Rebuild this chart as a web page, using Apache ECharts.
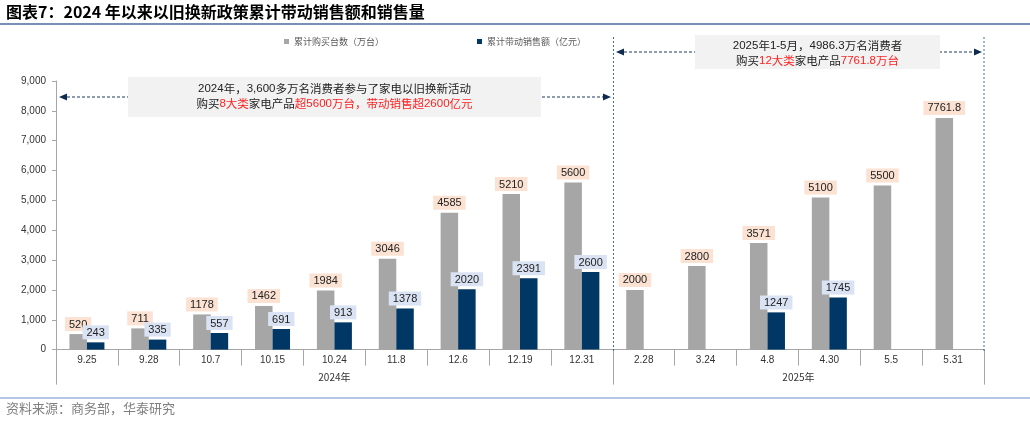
<!DOCTYPE html>
<html><head><meta charset="utf-8">
<script src="https://cdn.jsdelivr.net/npm/echarts@6/dist/echarts.min.js"></script>
<style>html,body{margin:0;padding:0;background:#fff;}#c{width:1030px;height:423px;}</style>
</head><body><div id="c"></div>
<script>
const categories = ['9.25','9.28','10.7','10.15','10.24','11.8','12.6','12.19','12.31','2.28','3.24','4.8','4.30','5.5','5.31'];
const groupLabels = ['','','','','2024年','','','','','','','2025年','','',''];
const unitsSold = [520,711,1178,1462,1984,3046,4585,5210,5600,2000,2800,3571,5100,5500,7761.8];
const salesAmount = [243,335,557,691,913,1378,2020,2391,2600,null,null,1247,1745,null,null];
const seriesNames = ['累计购买台数（万台）','累计带动销售额（亿元）'];
const yTicks = [0,1000,2000,3000,4000,5000,6000,7000,8000,9000];

const CJK = "'Noto Sans CJK SC','Noto Sans',sans-serif";
const NUM = "'Liberation Sans',Arial,sans-serif";
const NARROW = "'Liberation Sans Narrow','Liberation Sans',Arial,sans-serif";
const RED = '#ff1f1f';
const DARK = '#222';
const chart = echarts.init(document.getElementById('c'));

function arrowHead(x, y, dir) {
  return {type:'polygon', z:5, shape:{points:[[x,y],[x-dir*8,y-3.5],[x-dir*8,y+3.5]]}, style:{fill:'#0e2a4f'}};
}
function dashH(x1,x2,y){return {type:'line', z:4, shape:{x1:x1,y1:y,x2:x2,y2:y}, style:{stroke:'#1f3864',lineWidth:1.2,lineDash:[3,2]}};}
function dashV(x,y1,y2){return {type:'line', z:4, shape:{x1:x,y1:y1,x2:x,y2:y2}, style:{stroke:'#3d6cb0',lineWidth:1,lineDash:[2,2]}};}

const FS = 11.5;
const richStyle = {
  b:{fontSize:FS,fontFamily:CJK,fill:DARK},
  n:{fontSize:FS,fontFamily:NUM,fill:DARK},
  r:{fontSize:FS,fontFamily:CJK,fill:RED},
  rn:{fontSize:FS,fontFamily:NUM,fill:RED}
};

chart.setOption({
  animation:false,
  backgroundColor:'#fff',
  textStyle:{fontFamily:NUM},
  legend:{
    left:279, top:32, itemWidth:5, itemHeight:5, itemGap:93, icon:'rect',
    data:seriesNames,
    textStyle:{fontSize:9,color:'#595959',fontFamily:CJK}
  },
  grid:{left:56,right:46,top:81,bottom:73.4,containLabel:false},
  xAxis:[{
    type:'category', data:categories, position:'bottom',
    axisLine:{lineStyle:{color:'#a6a6a6',width:1}},
    axisTick:{show:true,interval:0,length:16,lineStyle:{color:'#a6a6a6'}},
    axisLabel:{interval:0,fontSize:10,color:'#333',margin:6,fontFamily:NARROW}
  },{
    type:'category', data:groupLabels, position:'bottom',
    axisLine:{show:false},
    axisTick:{show:true,length:35,interval:function(i){return i===0||i===9;},lineStyle:{color:'#a6a6a6'}},
    axisLabel:{interval:0,margin:23,fontSize:10,color:'#333',fontFamily:CJK,
      formatter:function(v,i){ if(i===11) return '{s|'+v+'}'; return v; },
      rich:{s:{padding:[0,0,0,62],fontSize:10,color:'#333',fontFamily:CJK}}}
  }],
  yAxis:{
    type:'value', min:0, max:9000, interval:1000,
    axisLine:{show:true,lineStyle:{color:'#a6a6a6'}},
    axisTick:{show:true,length:4,lineStyle:{color:'#a6a6a6'}},
    splitLine:{show:false},
    axisLabel:{fontSize:10,color:'#333',margin:10,fontFamily:NUM,
      formatter:function(v){return yTicks.indexOf(v)>=0 ? v.toLocaleString('en-US') : '';}}
  },
  series:[{
    name:seriesNames[0], type:'bar', data:unitsSold, barWidth:17.5, barGap:'0%',
    itemStyle:{color:'#a6a6a6'},
    label:{show:true,position:'top',distance:3,fontSize:11,color:'#222',fontFamily:NUM,
      backgroundColor:'#fbe2d2',padding:[2,4,1,4]}
  },{
    name:seriesNames[1], type:'bar', data:salesAmount, barWidth:17.5,
    itemStyle:{color:'#003764'},
    label:{show:true,position:'top',distance:3,fontSize:11,color:'#222',fontFamily:NUM,
      backgroundColor:'#dae3f3',padding:[2,4,1,4]}
  }],
  graphic:[
    {type:'text', left:6, top:4, style:{text:'图表7：2024 年以来以旧换新政策累计带动销售额和销售量', font:"bold 16px "+CJK, fill:'#000'}},
    {type:'line', shape:{x1:0,y1:24,x2:1030,y2:24}, style:{stroke:'#4a6a9b',lineWidth:1.5}},
    {type:'line', shape:{x1:0,y1:398,x2:1030,y2:398}, style:{stroke:'#b4c7e7',lineWidth:2}},
    {type:'text', left:6, top:402, style:{text:'资料来源：商务部，华泰研究', font:"13px "+CJK, fill:'#808080'}},
    dashV(613.5,37,352), dashV(984,37,352),
    dashH(62,608,97), arrowHead(59,97,-1), arrowHead(611,97,1),
    dashH(619,979,52), arrowHead(616,52,-1), arrowHead(982,52,1),
    {type:'rect', z:6, shape:{x:128,y:77,width:413,height:40}, style:{fill:'#f2f2f2'}},
    {type:'text', z:7, x:334.5, y:89, style:{align:'center',verticalAlign:'middle',
      text:'{n|2024}{b|年，}{n|3,600}{b|多万名消费者参与了家电以旧换新活动}', rich:richStyle}},
    {type:'text', z:7, x:334.5, y:104, style:{align:'center',verticalAlign:'middle',
      text:'{b|购买}{rn|8}{r|大类}{b|家电产品}{r|超}{rn|5600}{r|万台，带动销售超}{rn|2600}{r|亿元}', rich:richStyle}},
    {type:'rect', z:6, shape:{x:695,y:35,width:245,height:34}, style:{fill:'#f2f2f2'}},
    {type:'text', z:7, x:817.5, y:46, style:{align:'center',verticalAlign:'middle',
      text:'{n|2025}{b|年}{n|1-5}{b|月，}{n|4986.3}{b|万名消费者}', rich:richStyle}},
    {type:'text', z:7, x:817.5, y:61, style:{align:'center',verticalAlign:'middle',
      text:'{b|购买}{rn|12}{r|大类}{b|家电产品}{rn|7761.8}{r|万台}', rich:richStyle}}
  ]
});
</script></body></html>
